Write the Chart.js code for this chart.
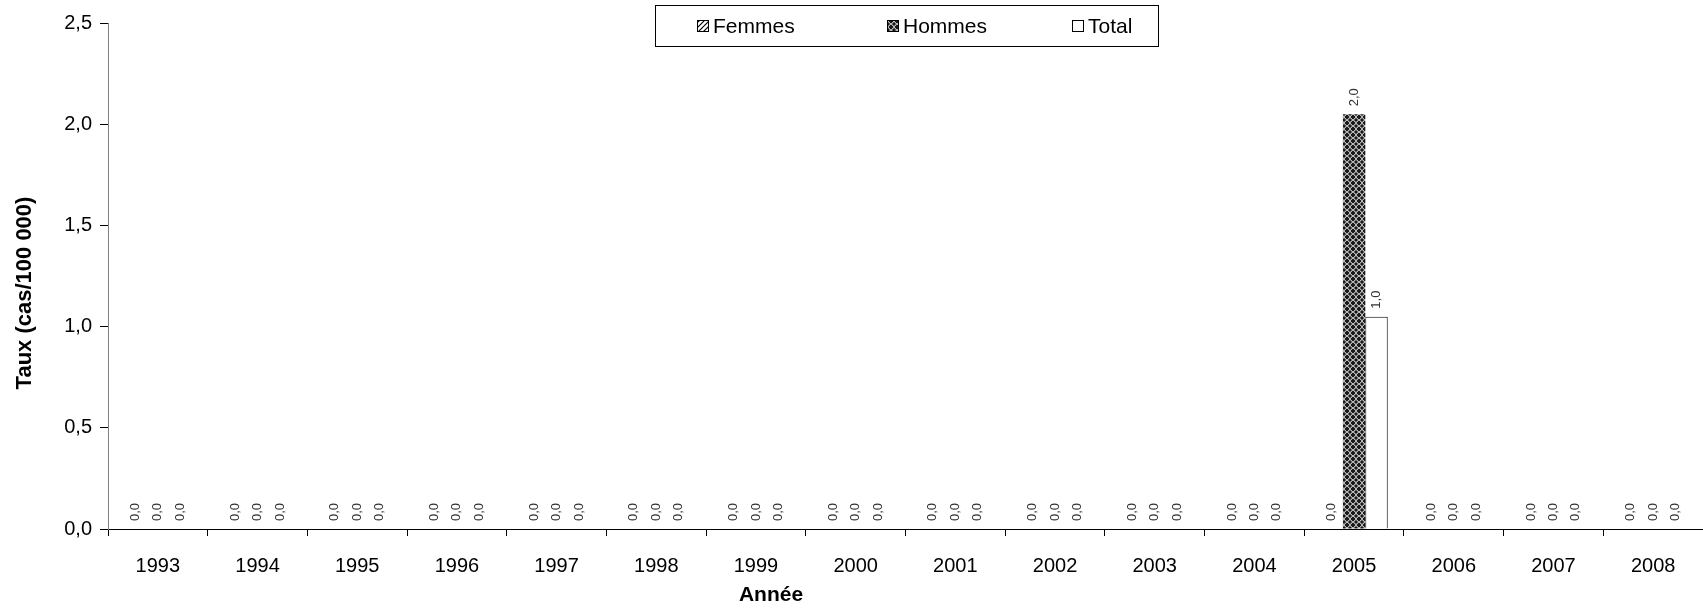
<!DOCTYPE html>
<html>
<head>
<meta charset="utf-8">
<script src="https://cdn.jsdelivr.net/npm/chart.js@4.4.1/dist/chart.umd.min.js"></script>
<style>
  html, body { margin: 0; padding: 0; background: #fff; }
  canvas { display: block; }
</style>
</head>
<body>
<canvas id="chart" width="1703" height="608"></canvas>
<script>
// data
const years = ['1993', '1994', '1995', '1996', '1997', '1998', '1999', '2000',
               '2001', '2002', '2003', '2004', '2005', '2006', '2007', '2008'];
const femmes = [0, 0, 0, 0, 0, 0, 0, 0, 0, 0, 0, 0, 0, 0, 0, 0];
const hommes = [0, 0, 0, 0, 0, 0, 0, 0, 0, 0, 0, 0, 2.049, 0, 0, 0];
const total  = [0, 0, 0, 0, 0, 0, 0, 0, 0, 0, 0, 0, 1.049, 0, 0, 0];
const yTicks = [0, 0.5, 1, 1.5, 2, 2.5];

const FONT = '"Liberation Sans", Arial, sans-serif';
const canvas = document.getElementById('chart');
const ctx = canvas.getContext('2d');

// hatch for Femmes
const hatchPattern = () => {
  const c = document.createElement('canvas');
  c.width = 5; c.height = 5;
  const g = c.getContext('2d');
  g.fillStyle = '#fff';
  g.fillRect(0, 0, 5, 5);
  g.strokeStyle = '#000';
  g.lineWidth = 1.2;
  g.beginPath();
  g.moveTo(0, 5); g.lineTo(5, 0);
  g.moveTo(-1, 1); g.lineTo(1, -1);
  g.moveTo(4, 6); g.lineTo(6, 4);
  g.stroke();
  return ctx.createPattern(c, 'repeat');
}

// dark cross hatch for Hommes
const crossPattern = () => {
  const c = document.createElement('canvas');
  c.width = 6; c.height = 6;
  const g = c.getContext('2d');
  g.fillStyle = '#1a1a1a';
  g.fillRect(0, 0, 6, 6);
  g.fillStyle = '#b8b8b8';
  g.fillRect(1, 1, 1, 1); g.fillRect(2, 0, 1, 1); g.fillRect(0, 2, 1, 1);
  g.fillRect(4, 4, 1, 1); g.fillRect(5, 3, 1, 1); g.fillRect(3, 5, 1, 1);
  g.fillRect(4, 1, 1, 1); g.fillRect(3, 0, 1, 1); g.fillRect(5, 2, 1, 1);
  g.fillRect(1, 4, 1, 1); g.fillRect(0, 3, 1, 1); g.fillRect(2, 5, 1, 1);
  g.fillStyle = '#666';
  g.fillRect(1, 0, 1, 1); g.fillRect(0, 1, 1, 1); g.fillRect(4, 0, 1, 1); g.fillRect(5, 1, 1, 1);
  g.fillRect(0, 4, 1, 1); g.fillRect(1, 5, 1, 1); g.fillRect(5, 4, 1, 1); g.fillRect(4, 5, 1, 1);
  return ctx.createPattern(c, 'repeat');
}

const fills = [hatchPattern(), crossPattern(), '#fff'];

const valueLabels = {
  id: 'valueLabels',
  afterDatasetsDraw(chart) {
    const c = chart.ctx;
    c.save();
    c.font = '13px ' + FONT;
    c.fillStyle = '#333';
    c.textAlign = 'left';
    c.textBaseline = 'middle';
    chart.data.datasets.forEach((ds, i) => {
      chart.getDatasetMeta(i).data.forEach((bar, j) => {
        const v = Math.floor(ds.data[j] * 10) / 10;
        const txt = v.toFixed(1).replace('.', ',');
        c.save();
        c.translate(bar.x, bar.y - 8);
        c.rotate(-Math.PI / 2);
        c.fillText(txt, 0, 0);
        c.restore();
      });
    });
    c.restore();
  }
};

// legend box and axis titles, placed as in the picture
const extras = {
  id: 'extras',
  afterDraw(chart) {
    const c = chart.ctx;
    c.save();
    c.strokeStyle = '#000';
    c.lineWidth = 1;
    c.strokeRect(655.5, 5.5, 503, 41);
    c.font = '21px ' + FONT;
    c.textBaseline = 'middle';
    const xs = [697, 887, 1072];
    chart.data.datasets.forEach((ds, i) => {
      const x = xs[i];
      c.fillStyle = fills[i];
      c.fillRect(x, 20, 12, 12);
      c.strokeStyle = '#000';
      c.strokeRect(x + 0.5, 20.5, 11, 11);
      c.fillStyle = '#000';
      c.fillText(ds.label, x + 16, 27);
    });

    c.font = 'bold 21px ' + FONT;
    c.textAlign = 'center';
    c.fillText('Année', 771, 595);
    c.translate(25, 293);
    c.rotate(-Math.PI / 2);
    c.font = 'bold 22px ' + FONT;
    c.fillText('Taux (cas/100 000)', 0, 0);
    c.restore();
  }
};

new Chart(ctx, {
  type: 'bar',
  data: {
    labels: years,
    datasets: [
      { label: 'Femmes', data: femmes, backgroundColor: fills[0], borderColor: '#000', borderWidth: 0 },
      { label: 'Hommes', data: hommes, backgroundColor: fills[1], borderColor: '#000', borderWidth: 0 },
      { label: 'Total',  data: total,  backgroundColor: fills[2], borderColor: '#000', borderWidth: 1 }
    ]
  },
  options: {
    responsive: false,
    animation: false,
    devicePixelRatio: 1,
    layout: { padding: { top: 23, right: 0, left: 0, bottom: 0 } },
    datasets: { bar: { categoryPercentage: 0.675, barPercentage: 1 } },
    plugins: { legend: { display: false }, tooltip: { enabled: false } },
    scales: {
      x: {
        grid: { offset: true, drawOnChartArea: false, drawTicks: true, tickLength: 7, color: '#000' },
        border: { color: '#000', width: 1 },
        ticks: { color: '#000', font: { family: FONT, size: 20 }, padding: 18, maxRotation: 0 },
        afterFit(scale) { scale.height = 79; }
      },
      y: {
        min: 0, max: 2.5,
        afterBuildTicks(scale) { scale.ticks = yTicks.map(v => ({ value: v })); },
        grid: { drawOnChartArea: false, drawTicks: true, tickLength: 8, color: '#000' },
        border: { color: '#808080', width: 1 },
        ticks: {
          color: '#000', font: { family: FONT, size: 20 }, padding: 8,
          callback: v => v.toFixed(1).replace('.', ',')
        },
        afterFit(scale) { scale.width = 108; }
      }
    }
  },
  plugins: [valueLabels, extras]
});
</script>
</body>
</html>
